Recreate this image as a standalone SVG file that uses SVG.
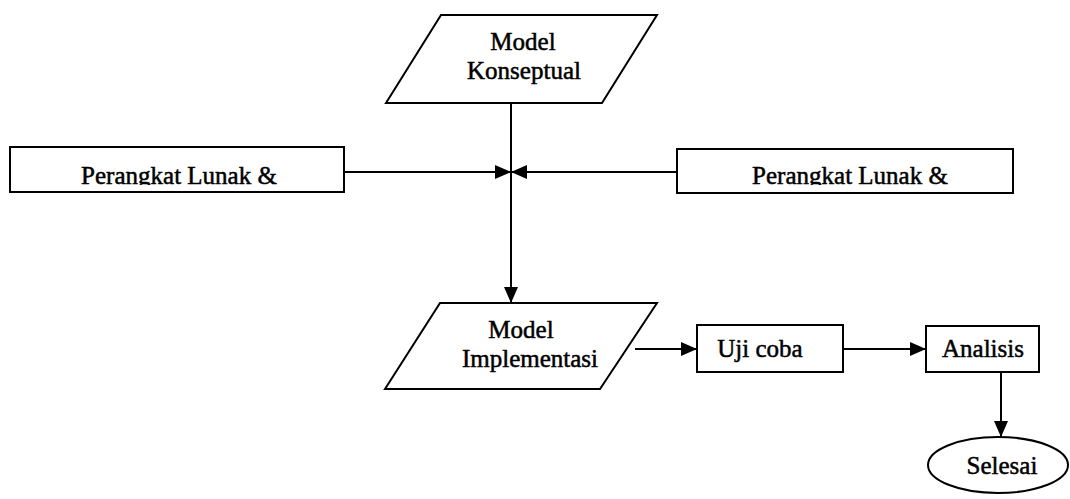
<svg xmlns="http://www.w3.org/2000/svg" width="1070" height="499" viewBox="0 0 1070 499">
<style>
.shape{fill:#fff;stroke:#000;stroke-width:2}
.line{fill:none;stroke:#000;stroke-width:2}
.t{font-family:"Liberation Serif","Times New Roman",serif;font-size:25px;fill:#000;stroke:#000;stroke-width:0.5;text-anchor:middle}
</style>
<defs>
<marker id="arr" viewBox="0 0 16 14" refX="16" refY="7" markerWidth="16" markerHeight="14" markerUnits="userSpaceOnUse" orient="auto">
<path d="M0,0 L16,7 L0,14 Z" fill="#000"/>
</marker>
<clipPath id="clipL"><rect x="10" y="147" width="334" height="38"/></clipPath>
<clipPath id="clipR"><rect x="677" y="149" width="336" height="36"/></clipPath>
</defs>
<g id="connectors">
<line class="line" x1="511" y1="103" x2="511" y2="303" marker-end="url(#arr)"/>
<line class="line" x1="344" y1="172" x2="511" y2="172" marker-end="url(#arr)"/>
<line class="line" x1="677" y1="172" x2="511" y2="172" marker-end="url(#arr)"/>
<line class="line" x1="635" y1="349" x2="697" y2="349" marker-end="url(#arr)"/>
<line class="line" x1="843" y1="349" x2="926" y2="349" marker-end="url(#arr)"/>
<line class="line" x1="1001" y1="372" x2="1001" y2="437" marker-end="url(#arr)"/>
</g>
<g id="model-konseptual">
<polygon class="shape" points="441,15 657,15 602,103 386,103"/>
<text class="t" x="523" y="50">Model</text>
<text class="t" x="524" y="79">Konseptual</text>
</g>
<g id="perangkat-kiri">
<rect class="shape" x="10" y="147" width="334" height="45"/>
<text class="t" x="179" y="184" clip-path="url(#clipL)">Perangkat Lunak &amp;</text>
</g>
<g id="perangkat-kanan">
<rect class="shape" x="677" y="149" width="336" height="44"/>
<text class="t" x="850" y="184" clip-path="url(#clipR)">Perangkat Lunak &amp;</text>
</g>
<g id="model-implementasi">
<polygon class="shape" points="440,303 657,303 600,389 385,389"/>
<text class="t" x="521" y="338">Model</text>
<text class="t" x="530" y="367">Implementasi</text>
</g>
<g id="uji-coba">
<rect class="shape" x="697" y="325" width="146" height="47"/>
<text class="t" x="760" y="357">Uji coba</text>
</g>
<g id="analisis">
<rect class="shape" x="926" y="326" width="113" height="46"/>
<text class="t" x="983" y="357">Analisis</text>
</g>
<g id="selesai">
<ellipse class="shape" cx="998" cy="465" rx="70" ry="28"/>
<text class="t" x="1002" y="474">Selesai</text>
</g>
</svg>
